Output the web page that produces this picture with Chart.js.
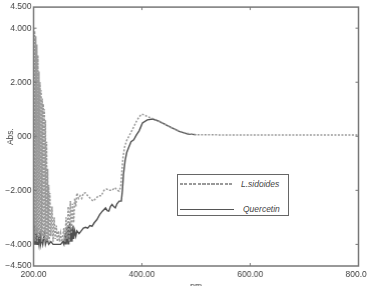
<!DOCTYPE html>
<html>
<head>
<meta charset="utf-8">
<script src="https://cdn.jsdelivr.net/npm/chart.js@4.4.1/dist/chart.umd.min.js"></script>
<style>
  html, body { margin: 0; padding: 0; background: #fff; overflow: hidden; }
  #wrap { position: relative; width: 367px; height: 286px; overflow: hidden; }
  #box { position: absolute; left: 0; top: 0; width: 374.5px; height: 292px; }
  .legend { position: absolute; left: 177px; top: 174px; width: 110px; height: 40px; border: 1px solid #666; background: #fff;
    font: italic 8.5px "Liberation Sans", Arial, sans-serif; color: #444; }
  .legend .row { position: absolute; left: 2px; height: 10px; }
  .legend .ln { position: absolute; left: 0; width: 54px; }
  .legend .tx { position: absolute; left: 61px; top: 0; white-space: nowrap; }
</style>
</head>
<body>
<div id="wrap">
  <div id="box"><canvas id="chart"></canvas></div>
  <div class="legend">
    <div class="row" style="top:4px"><div class="ln" style="top:4px;height:2px;background:repeating-linear-gradient(90deg,#999 0 3px,transparent 3px 4.5px)"></div><div class="tx">L.sidoides</div></div>
    <div class="row" style="top:29px"><div class="ln" style="top:5px;border-top:1.5px solid #555"></div><div class="tx" style="left:63px">Quercetin</div></div>
  </div>
</div>
<script>
// L.sidoides (dashed)
const lsNm = [200, 201, 202, 203, 204, 205, 206, 207, 208, 209, 210, 211, 212, 213, 214, 215, 216, 217, 218, 219,
  220, 221, 222, 223, 224, 225, 226, 227, 228, 229, 230, 232, 234, 236, 238, 240, 242, 244, 246, 248,
  250, 252, 254, 256, 258, 260, 262, 264, 266, 268, 270, 272, 274, 276, 278, 280, 283, 286, 289, 292,
  296, 300, 305, 310, 315, 320, 325, 330, 335, 340, 345, 350, 355, 358, 361, 363, 365, 368, 372, 376,
  380, 385, 390, 395, 400, 405, 410, 418, 426, 435, 444, 453, 463, 472, 481, 490, 500, 550, 600, 650,
  700, 750, 800];
const lsAbs = [4.0, -3.8, 3.9, -3.9, 3.7, -3.6, 3.4, -3.9, 3.0, -3.7, 2.4, -3.8, 2.0, -3.6, 1.7, -3.9, 1.4, -3.7, 1.2, -3.8,
  1.0, -3.9, 0.6, -3.7, -0.2, -3.9, -1.2, -3.8, -1.8, -3.9, -2.1, -3.7, -2.6, -3.9, -3.0, -3.8, -3.3, -3.9, -3.5, -3.9,
  -3.6, -3.9, -3.7, -3.4, -3.9, -3.0, -3.8, -2.6, -3.9, -2.4, -3.6, -2.5, -3.2, -2.3, -2.6, -2.1, -2.3, -2.2, -2.3, -2.1,
  -2.1, -2.2, -2.3, -2.4, -2.3, -2.2, -2.2, -2.0, -1.95, -2.0, -2.0, -1.9, -2.0, -2.03, -1.85, -1.3, -0.8, -0.4, -0.15, 0.0,
  0.15, 0.35, 0.55, 0.72, 0.82, 0.78, 0.73, 0.67, 0.61, 0.52, 0.43, 0.33, 0.24, 0.17, 0.12, 0.08, 0.06, 0.05, 0.05, 0.05,
  0.05, 0.05, 0.05];

// Quercetin (solid)
const qNm = [200, 201, 202, 203, 204, 205, 206, 207, 208, 210, 212, 213, 215, 217, 220, 222, 225, 228, 232, 236,
  240, 245, 250, 254, 256, 258, 259, 261, 262, 264, 265, 267, 268, 270, 271, 273, 274, 276, 278, 280,
  284, 288, 292, 296, 300, 304, 308, 312, 317, 322, 327, 333, 336, 339, 342, 345, 348, 351, 354, 358,
  362, 364, 366, 369, 372, 376, 380, 385, 390, 395, 401, 410, 420, 432, 450, 469, 485, 500];
const qAbs = [-2.9, -4.0, -3.3, -4.0, -3.6, -4.0, -3.4, -4.0, -3.7, -4.0, -3.5, -4.0, -3.8, -4.0, -3.6, -4.0, -3.8, -4.0, -3.9, -4.0,
  -4.0, -4.0, -4.0, -3.9, -4.0, -3.6, -4.0, -3.4, -4.0, -3.3, -4.0, -3.2, -3.9, -3.4, -3.9, -3.3, -3.8, -3.5, -3.7, -3.5,
  -3.6, -3.5, -3.4, -3.37, -3.4, -3.3, -3.33, -3.2, -3.08, -2.9, -2.77, -2.65, -2.75, -2.77, -2.6, -2.52, -2.6, -2.65, -2.5, -2.4,
  -2.4, -2.0, -1.4, -0.9, -0.6, -0.4, -0.2, -0.13, 0.05, 0.2, 0.49, 0.61, 0.64, 0.55, 0.37, 0.18, 0.08, 0.06];

// y ticks: the original axis ends sit a little beyond the evenly spaced inner ticks
const yTickVals = [-4.8, -4, -2, 0, 2, 4, 4.78];
const yTickLabels = ["\u22124.500", "\u22124.000", "\u22122.000", "000", "2.000", "4.000", "4.500"];
const xTickVals = [200, 400, 600, 800];

const toPts = (xs, ys) => xs.map((x, i) => ({ x, y: ys[i] }));
const FONT = { family: "'Liberation Sans', Arial, sans-serif", size: 8.5 };

const framePlugin = {
  id: "frame",
  afterDatasetsDraw(chart) {
    const { ctx, chartArea: a, scales } = chart;
    ctx.save();
    ctx.strokeStyle = "#777";
    ctx.lineWidth = 1.5;
    ctx.strokeRect(a.left, a.top, a.right - a.left, a.bottom - a.top);
    ctx.lineWidth = 1;
    ctx.beginPath();
    xTickVals.slice(1, -1).forEach((v) => {
      const px = scales.x.getPixelForValue(v);
      ctx.moveTo(px, a.bottom); ctx.lineTo(px, a.bottom - 3);
      ctx.moveTo(px, a.top); ctx.lineTo(px, a.top + 3);
    });
    yTickVals.slice(1, -1).forEach((v) => {
      const py = scales.y.getPixelForValue(v);
      ctx.moveTo(a.left, py); ctx.lineTo(a.left + 3, py);
      ctx.moveTo(a.right, py); ctx.lineTo(a.right - 3, py);
    });
    ctx.stroke();
    ctx.restore();
  },
};

new Chart(document.getElementById("chart"), {
  type: "line",
  data: {
    datasets: [
      {
        label: "L.sidoides",
        data: toPts(lsNm, lsAbs),
        borderColor: "#999",
        borderWidth: 1.5,
        borderDash: [2, 1.5],
        pointRadius: 0,
        tension: 0,
      },
      {
        label: "Quercetin",
        data: toPts(qNm, qAbs),
        borderColor: "#505050",
        borderWidth: 1.4,
        pointRadius: 0,
        tension: 0,
      },
    ],
  },
  options: {
    responsive: true,
    maintainAspectRatio: false,
    animation: false,
    layout: { padding: { top: 7 } },
    plugins: { legend: { display: false }, tooltip: { enabled: false } },
    scales: {
      x: {
        type: "linear",
        min: 200,
        max: 800,
        afterBuildTicks: (s) => { s.ticks = xTickVals.map((v) => ({ value: v })); },
        afterFit: (s) => { s.height = 26; },
        grid: { display: false, drawTicks: false },
        border: { display: false },
        ticks: { font: FONT, color: "#444", padding: 4, maxRotation: 0, callback: (v) => Number(v).toFixed(2) },
        title: { display: true, text: "nm", font: FONT, color: "#444", padding: { top: 0, bottom: 0 } },
      },
      y: {
        type: "linear",
        min: -4.8,
        max: 4.78,
        afterBuildTicks: (s) => { s.ticks = yTickVals.map((v) => ({ value: v })); },
        afterFit: (s) => { s.width = 33.5; },
        grid: { display: false, drawTicks: false },
        border: { display: false },
        ticks: {
          font: FONT, color: "#444", padding: 2,
          callback: (v) => yTickLabels[yTickVals.indexOf(v)],
        },
        title: { display: true, text: "Abs.", font: FONT, color: "#444", padding: { top: 6, bottom: 0 } },
      },
    },
  },
  plugins: [framePlugin],
});
</script>
</body>
</html>
